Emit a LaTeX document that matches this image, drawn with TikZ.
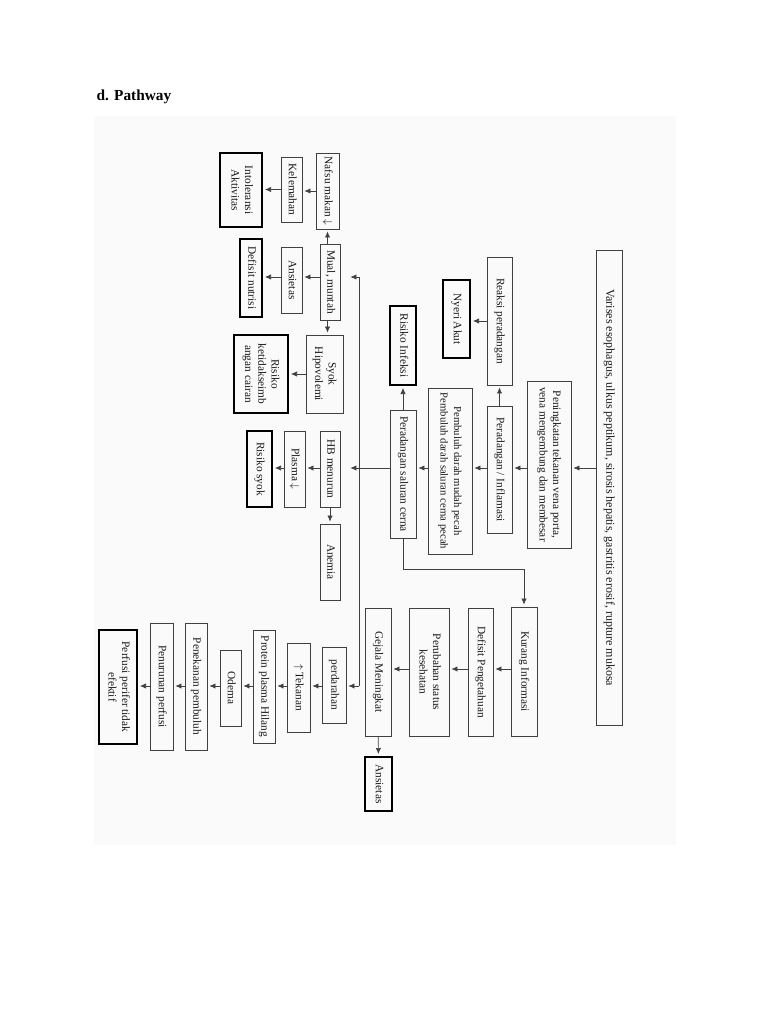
\documentclass[tikz,border=0pt]{standalone}
\usepackage{fontspec}
\usepackage{graphicx}
\setmainfont{Liberation Serif}
\usetikzlibrary{arrows.meta}
\newcommand{\boxfont}{\fontsize{8.5}{10}\selectfont}
\newcommand{\vtext}[1]{\rotatebox{-90}{\begin{tabular}{@{}c@{}}#1\end{tabular}}}
\tikzset{
    box/.style={draw=black!75, line width=0.6pt, inner sep=0pt, font=\boxfont, text=black!90},
    thickbox/.style={box, draw=black, line width=1.5pt},
    sz/.style 2 args={minimum width=#1*0.75pt, minimum height=#2*0.75pt},
    arr/.style={draw=black!75, line width=0.5pt, shorten >=1.5pt, -{Latex[length=4.5pt,width=4pt]}}
}
\begin{document}
\begin{tikzpicture}[x=0.75pt, y=-0.75pt]
    \useasboundingbox (0,0) rectangle (768,1024);
    \fill[black!2] (94,116) rectangle (676,845);
    \node[anchor=west, font=\bfseries\fontsize{11.5}{13}\selectfont] (judul) at (92,97) {d. Pathway};
    % upper part
    \node[box, sz={26}{475}, font=\fontsize{9}{10}\selectfont] (varises) at (609,487.5)
        {\vtext{Varises esophagus, ulkus peptikum, sirosis hepatis, gastritis erosif, rupture mukosa}};
    \node[box, sz={44}{167}] (tekporta) at (549,464.5)
        {\vtext{Peningkatan tekanan vena porta,\\vena mengembung dan membesar}};
    \node[box, sz={25}{128}] (reaksi) at (499.5,321) {\vtext{Reaksi peradangan}};
    \node[thickbox, sz={27}{78}] (nyeri) at (456.5,319) {\vtext{Nyeri Akut}};
    \node[box, sz={25}{127}] (inflamasi) at (499.5,469.5) {\vtext{Peradangan / Inflamasi}};
    \node[box, sz={44}{166}, font=\fontsize{8}{10}\selectfont] (pembuluh) at (450,471)
        {\vtext{Pembuluh darah mudah pecah\\Pembuluh darah saluran cerna pecah}};
    \node[box, sz={26}{128}] (salcerna) at (403,474) {\vtext{Peradangan saluran cerna}};
    \node[thickbox, sz={26}{79}] (infeksi) at (403,345.5) {\vtext{Risiko Infeksi}};
    % lower right chain
    \node[box, sz={26}{129}] (kurinfo) at (524,671.5) {\vtext{Kurang Informasi}};
    \node[box, sz={25}{128}] (defpeng) at (480.5,672) {\vtext{Defisit Pengetahuan}};
    \node[box, sz={40}{128}] (status) at (429,672) {\vtext{Perubahan status\\kesehatan}};
    \node[box, sz={26}{128}] (gejala) at (378,672) {\vtext{Gejala Meningkat}};
    \node[thickbox, sz={27}{54}] (ansietasb) at (378.5,784) {\vtext{Ansietas}};
    % lower left chain
    \node[box, sz={24}{76}] (perdarahan) at (334,685) {\vtext{perdarahan}};
    \node[box, sz={23}{89}] (tekanan) at (298.5,687.5) {\vtext{$\uparrow$ Tekanan}};
    \node[box, sz={22}{113}] (protein) at (264,686.5) {\vtext{Protein plasma Hilang}};
    \node[box, sz={21}{76}] (odema) at (230.5,688) {\vtext{Odema}};
    \node[box, sz={22}{127}] (penekanan) at (196,686.5) {\vtext{Penekanan pembuluh}};
    \node[box, sz={23}{127}] (penurunan) at (161.5,686.5) {\vtext{Penurunan perfusi}};
    \node[thickbox, sz={38}{114}] (perfusi) at (118,687) {\vtext{Perfusi perifer tidak\\efektif}};
    % left columns
    \node[box, sz={23}{76}] (nafsu) at (327.5,191) {\vtext{Nafsu makan $\downarrow$}};
    \node[box, sz={21}{65}] (kelemahan) at (291.5,189.5) {\vtext{Kelemahan}};
    \node[thickbox, sz={42}{74}] (intoleransi) at (241,190) {\vtext{Intoleransi\\Aktivitas}};
    \node[box, sz={20}{76}] (mual) at (330,282) {\vtext{Mual, muntah}};
    \node[box, sz={21}{66}] (ansietasa) at (291.5,280) {\vtext{Ansietas}};
    \node[thickbox, sz={22}{78}] (nutrisi) at (251,278) {\vtext{Defisit nutrisi}};
    \node[box, sz={37}{78}] (syok) at (324.5,374) {\vtext{Syok\\Hipovolemi}};
    \node[thickbox, sz={54}{78}] (cairan) at (261,374) {\vtext{Risiko\\ketidakseimb\\angan cairan}};
    \node[box, sz={20}{76}] (hb) at (330,469) {\vtext{HB menurun}};
    \node[box, sz={21}{76}] (plasma) at (294.5,469) {\vtext{Plasma $\downarrow$}};
    \node[thickbox, sz={25}{76}] (rsyok) at (259.5,469) {\vtext{Risiko syok}};
    \node[box, sz={20}{76}] (anemia) at (330,562) {\vtext{Anemia}};
    % rows and bus
    \coordinate (r1) at (0,468);
    \coordinate (r2) at (0,669);
    \coordinate (r3) at (0,686);
    \coordinate (r4) at (0,277);
    \coordinate (bustop) at (359,277);
    \coordinate (busbot) at (359,686);
    % connectors
    \draw[arr] (varises.west |- r1) -- (tekporta.east |- r1);
    \draw[arr] (tekporta.west |- r1) -- (inflamasi.east |- r1);
    \draw[arr] (inflamasi.west |- r1) -- (pembuluh.east |- r1);
    \draw[arr] (pembuluh.west |- r1) -- (salcerna.east |- r1);
    \draw[arr, shorten >=7.5pt] (salcerna.west |- r1) -- (hb.east |- r1);
    \draw[arr] (hb.west |- r1) -- (plasma.east |- r1);
    \draw[arr] (plasma.west |- r1) -- (rsyok.east |- r1);
    \draw[arr] (inflamasi) -- (reaksi);
    \draw[arr] (reaksi.west) -- (reaksi.west -| nyeri.east);
    \draw[arr] (salcerna) -- (infeksi);
    \draw[arr] (salcerna.south) -- ++(0,31) -| (kurinfo.north);
    \draw[arr] (kurinfo.west |- r2) -- (defpeng.east |- r2);
    \draw[arr] (defpeng.west |- r2) -- (status.east |- r2);
    \draw[arr] (status.west |- r2) -- (gejala.east |- r2);
    \draw[arr] (gejala) -- (ansietasb);
    \draw[draw=black!75, line width=0.5pt] (bustop) -- (busbot);
    \draw[arr, shorten >=7.5pt] (bustop) -- (bustop -| mual.east);
    \draw[arr] (busbot) -- (busbot -| perdarahan.east);
    \draw[arr] (perdarahan.west |- r3) -- (tekanan.east |- r3);
    \draw[arr] (tekanan.west |- r3) -- (protein.east |- r3);
    \draw[arr] (protein.west |- r3) -- (odema.east |- r3);
    \draw[arr] (odema.west |- r3) -- (penekanan.east |- r3);
    \draw[arr] (penekanan.west |- r3) -- (penurunan.east |- r3);
    \draw[arr] (penurunan.west |- r3) -- (perfusi.east |- r3);
    \draw[arr] (mual.north -| nafsu) -- (nafsu.south);
    \draw[arr] (mual.south -| nafsu) -- (syok.north -| nafsu);
    \draw[arr] (hb) -- (anemia);
    \draw[arr] (nafsu.west) -- (nafsu.west -| kelemahan.east);
    \draw[arr] (kelemahan.west) -- (kelemahan.west -| intoleransi.east);
    \draw[arr] (mual.west |- r4) -- (ansietasa.east |- r4);
    \draw[arr] (ansietasa.west |- r4) -- (nutrisi.east |- r4);
    \draw[arr] (syok.west) -- (syok.west -| cairan.east);
\end{tikzpicture}
\end{document}
